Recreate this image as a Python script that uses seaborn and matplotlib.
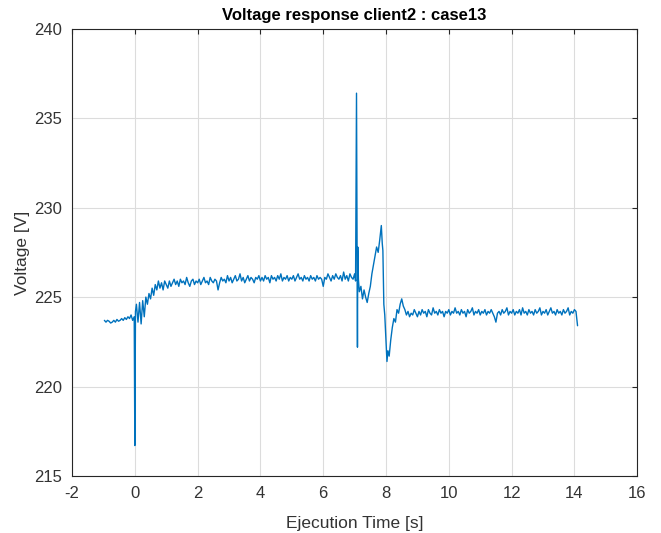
import matplotlib
matplotlib.use("Agg")
import matplotlib.pyplot as plt
import seaborn as sns
import pandas as pd

# --- data read off the reference plot (sampled every 0.05 s in the flat parts) ---
# before the event at t=0
t_pre = [round(-0.97 + 0.05 * i, 2) for i in range(20)]
v_pre = [223.7, 223.6, 223.7, 223.65, 223.55, 223.6, 223.7, 223.6, 223.75, 223.65,
         223.7, 223.8, 223.7, 223.85, 223.75, 223.9, 223.8, 224.0, 223.7, 223.9]

# dip at t=0 and recovery
t_rise = [0.0, 0.02, 0.05, 0.1, 0.15, 0.2, 0.25, 0.3, 0.35, 0.4, 0.45, 0.5, 0.55,
          0.6, 0.65, 0.7, 0.75, 0.8, 0.85, 0.9, 0.95, 1.0]
v_rise = [216.7, 224.2, 224.6, 223.6, 224.7, 223.5, 224.8, 223.9, 225.0, 224.6, 225.2,
          224.9, 225.5, 225.1, 225.7, 225.4, 225.9, 225.5, 225.8, 225.4, 225.9, 225.7]

# steady state 1
t_ss1 = [round(1.05 + 0.05 * i, 2) for i in range(118)]
v_ss1 = [225.5, 225.9, 225.6, 225.8, 226.0, 225.7, 225.9, 225.6, 226.0, 225.8,
         225.9, 225.7, 226.1, 225.8, 225.6, 225.9, 226.0, 225.7, 225.9, 225.8,
         226.0, 225.7, 225.9, 226.1, 225.8, 225.9, 225.7, 226.1, 225.9, 225.8,
         226.0, 225.9, 225.4, 225.8, 226.1, 225.9, 226.0, 225.8, 226.2, 225.9,
         226.1, 225.8, 226.0, 226.2, 225.9, 226.0, 226.3, 225.9, 226.1, 225.8,
         226.0, 226.2, 225.9, 226.1, 226.0, 225.8, 226.1, 226.0, 226.2, 225.9,
         226.1, 225.9, 226.2, 226.0, 226.1, 225.8, 226.2, 226.0, 226.1, 225.9,
         226.2, 226.0, 226.3, 225.9, 226.1, 226.0, 226.2, 225.9, 226.1, 226.0,
         226.2, 225.9, 226.1, 226.3, 226.0, 226.1, 225.9, 226.2, 226.0, 226.1,
         225.9, 226.2, 226.0, 226.1, 225.9, 226.2, 226.0, 226.1, 226.0, 225.6,
         226.1, 226.0, 226.3, 226.1, 225.9, 226.2, 226.0, 226.3, 226.1, 226.0,
         226.2, 225.9, 226.4, 226.0, 226.2, 225.9, 226.3, 226.1]

# disturbance around t=7..8.7
t_ev = [6.95, 7.0, 7.03, 7.06, 7.09, 7.1, 7.12, 7.15, 7.2, 7.25, 7.3, 7.35, 7.4, 7.45,
        7.5, 7.55, 7.6, 7.65, 7.7, 7.75, 7.8, 7.85, 7.88, 7.9, 7.93, 7.96, 8.0, 8.03,
        8.06, 8.1, 8.15, 8.2, 8.25, 8.3, 8.35, 8.4, 8.45, 8.5, 8.55, 8.6, 8.65]
v_ev = [226.0, 226.3, 225.9, 236.4, 222.2, 227.8, 226.0, 225.3, 225.6, 224.9, 225.4,
        225.0, 224.7, 225.2, 225.6, 226.3, 226.8, 227.3, 227.8, 227.5, 228.2, 229.0,
        228.0, 227.6, 224.6, 224.0, 222.5, 221.4, 222.0, 221.7, 222.6, 223.3, 223.8,
        223.6, 224.3, 224.1, 224.6, 224.9, 224.5, 224.3, 224.0]

# steady state 2
t_ss2 = [round(8.7 + 0.05 * i, 2) for i in range(108)] + [14.1]
v_ss2 = [224.2, 223.9, 224.1, 224.0, 224.3, 224.1, 223.9, 224.2, 224.0, 224.3,
         224.1, 224.2, 223.9, 224.3, 224.1, 224.0, 224.4, 224.1, 224.2, 224.0,
         224.3, 224.1, 224.2, 223.9, 224.2, 224.1, 224.3, 224.0, 224.2, 224.1,
         224.4, 224.1, 224.2, 224.0, 224.3, 224.1, 224.2, 223.9, 224.3, 224.1,
         224.2, 224.4, 224.0, 224.2, 224.1, 224.3, 224.0, 224.2, 224.1, 224.3,
         224.0, 224.2, 224.1, 224.3, 224.1, 223.9, 223.6, 224.1, 224.2, 224.0,
         224.3, 224.1, 224.2, 224.4, 224.0, 224.2, 224.1, 224.3, 224.0, 224.2,
         224.1, 224.3, 224.0, 224.4, 224.1, 224.2, 224.0, 224.3, 224.1, 224.2,
         224.0, 224.3, 224.1, 224.2, 224.4, 224.0, 224.2, 224.1, 224.3, 224.0,
         224.2, 224.4, 224.1, 224.2, 224.0, 224.3, 224.1, 224.2, 224.0, 224.3,
         224.1, 224.2, 224.4, 224.0, 224.2, 224.1, 224.3, 224.2,
         223.4]

data = pd.DataFrame({
    "time": t_pre + t_rise + t_ss1 + t_ev + t_ss2,
    "voltage": v_pre + v_rise + v_ss1 + v_ev + v_ss2,
})

# --- MATLAB-like look ---
sns.set_style("white")
plt.rcParams["font.family"] = ["Liberation Sans", "DejaVu Sans"]
plt.rcParams["axes.unicode_minus"] = False
axcol = "#262626"

fig = plt.figure(figsize=(6.61, 5.33), dpi=100)
ax = fig.add_axes([0.109, 0.107, 0.855, 0.839])

sns.lineplot(data=data, x="time", y="voltage", estimator=None, sort=False,
             color="#0072BD", linewidth=1.0, ax=ax)

ax.set_xlim(-2, 16)
ax.set_ylim(215, 240)
ax.set_xticks(range(-2, 17, 2))
ax.set_yticks(range(215, 241, 5))
ax.grid(True, color="#dcdcdc", linewidth=0.8)
ax.tick_params(direction="in", length=3.5, colors=axcol, labelsize=12, pad=7,
               top=True, right=True, labelcolor="#333333")
for s in ax.spines.values():
    s.set_color(axcol)
    s.set_linewidth(0.8)

ax.set_title("Voltage response client2 : case13", fontsize=12, fontweight="bold", color="black")
ax.set_xlabel("Ejecution Time [s]", fontsize=12.5, color="#333333", labelpad=11)
ax.set_ylabel("Voltage [V]", fontsize=12.5, color="#333333", labelpad=3)

fig.savefig("out.png", dpi=100)
